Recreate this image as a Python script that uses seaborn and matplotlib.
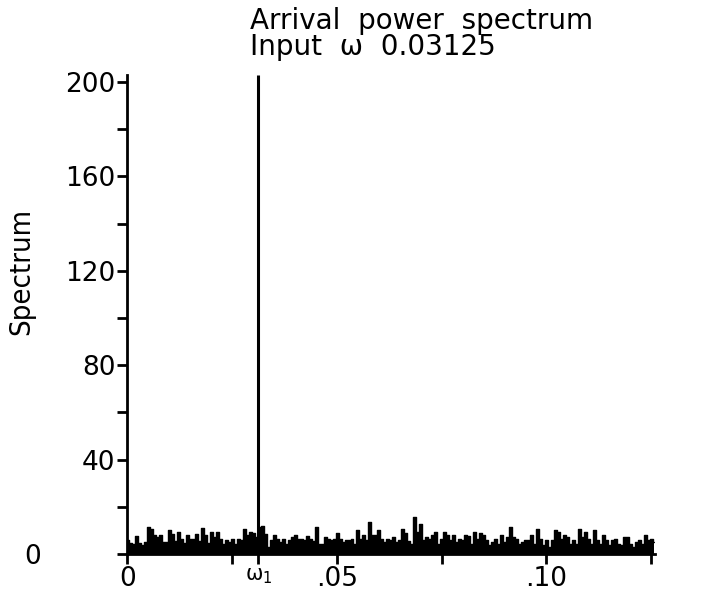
import numpy as np
import pandas as pd
import matplotlib
matplotlib.use("Agg")
import matplotlib.pyplot as plt
import seaborn as sns

# ---- data ----
title_line1 = "Arrival  power  spectrum"
title_line2 = "Input  \u03c9  0.03125"
y_label = "Spectrum"

spike_freq = [0.03125]
spike_power = [203.0]

noise_power = [
    6, 4.5, 4.4, 7.5, 4.5, 4, 5, 11.5, 10.5, 8, 7, 8, 5, 5, 10, 8.5, 5.5, 9.5, 6.5, 4.5,
    8, 6.5, 6.5, 8.5, 5.5, 11, 8, 4.5, 9.5, 7,
    9.4, 6.5, 4.4, 5.8, 5, 6.5, 4.4, 6.5, 5.8, 10.8, 8, 9.5, 9, 7.2, 11.5, 12, 8.5, 3, 5.8, 7.9,
    6.5, 5.1, 6.5, 4.4, 5.8, 7.2, 7.9, 6.5, 6.5, 6,
    7.5, 6.5, 5.5, 11.5, 4.4, 4.4, 7.2, 6.5, 5.8, 6.5, 8.7, 6.5, 5.1, 5.8, 5.8, 6.5, 4.4, 10, 6.5, 7.9,
    5.8, 13.6, 8, 7.9, 10, 6.5, 5.1, 6.5, 5.8,
    7.2, 5.1, 6, 10.8, 8.7, 5.5, 4.4, 15.5, 9.5, 12.9, 5.8, 7.2, 6.5, 7.9, 9.4, 4.4, 6.5, 9.4, 7.9, 5.8,
    7.9, 5.1, 6.5, 5.8, 7.9, 7.5, 4.4, 9.4, 6.5,
    8.7, 7.9, 5.8, 3.7, 5.1, 6.5, 4.4, 7.9, 5.1, 7.2, 11.5, 7.2, 6.5, 4.4, 5.1, 5.8, 5.8, 7.9, 4.4, 10.8,
    6.5, 3.7, 5.8, 3, 5.8, 10, 9.5, 6.5, 7.9, 7.2,
    4.4, 5.8, 4.4, 10.8, 7.2, 9.4, 6.5, 4.4, 10, 5.8, 4.4, 7.9, 5.8, 3.7, 5.8, 6.5, 4.4, 3.7, 7.2, 7.2,
    4.4, 3, 5.1, 5.8, 4.4, 7.9, 5.8, 6.5, 5.1,
]
freq_max = 0.1258

x_tick_pos = [0.0, 0.025, 0.03125, 0.05, 0.075, 0.10, 0.125]
x_tick_labels = ["0", "", r"$\mathregular{\omega_1}$", ".05", "", ".10", ""]
y_major = [0, 40, 80, 120, 160, 200]
y_major_labels = ["0", "40", "80", "120", "160", "200"]
y_minor = [20, 60, 100, 140, 180]

# ---- figure ----
sns.set_style("white")
plt.rcParams["font.family"] = ["DejaVu Sans"]
for k in ["text.color", "axes.labelcolor", "xtick.color", "ytick.color", "axes.edgecolor"]:
    plt.rcParams[k] = "black"

fig = plt.figure(figsize=(7.11, 5.97), dpi=100)
ax = fig.add_axes([0.1793, 0.072, 0.9215 - 0.1793, 0.8024])

freq = np.linspace(0.0, freq_max, len(noise_power))
df = pd.DataFrame({"freq": freq, "power": noise_power})

ax.fill_between(df["freq"], 0, df["power"], color="black", lw=0, step="mid")
sns.lineplot(data=df, x="freq", y="power", color="black", lw=1.0, ax=ax,
             estimator=None, sort=True, drawstyle="steps-mid")
ax.vlines(spike_freq, 0, spike_power, color="black", lw=2.2)

ax.set_xlim(0, 0.126)
ax.set_ylim(0, 203)

for s in ["top", "right"]:
    ax.spines[s].set_visible(False)
for s in ["left", "bottom"]:
    ax.spines[s].set_linewidth(2)
    ax.spines[s].set_color("black")

ax.set_xticks(x_tick_pos)
ax.set_xticklabels(x_tick_labels)
ax.set_yticks(y_major)
ax.set_yticklabels(y_major_labels)
ax.set_yticks(y_minor, minor=True)

ax.tick_params(axis="both", which="both", direction="out", length=7.5, width=2,
               color="black", labelcolor="black", labelsize=19, pad=1,
               left=True, bottom=True)
for lab in ax.get_xticklabels():
    if "omega" in lab.get_text():
        lab.set_fontsize(15)
ax.yaxis.get_major_ticks()[0].set_pad(55)

ax.set_xlabel("")
ax.set_ylabel(y_label, fontsize=21, fontstretch="condensed", color="black")
ax.yaxis.set_label_coords(-0.175, 0.589)

fig.text(250 / 711, 1 - 29 / 597, title_line1, fontsize=20, va="baseline", ha="left",
         color="black")
fig.text(250 / 711, 1 - 55 / 597, title_line2, fontsize=20, va="baseline", ha="left",
         color="black")

fig.savefig("out.png", dpi=100)
